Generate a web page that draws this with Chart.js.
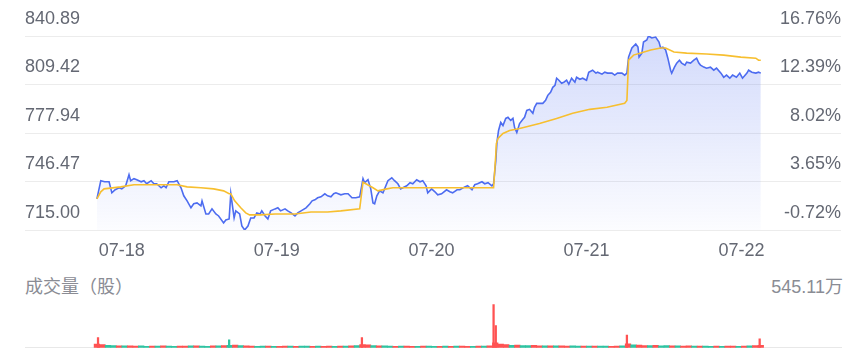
<!DOCTYPE html>
<html lang="zh-CN">
<head>
  <meta charset="UTF-8">
  <title>五日分时</title>
  <script src="https://cdn.jsdelivr.net/npm/chart.js"></script>
  <style>
    body {
      margin: 0;
      background: #fff;
      font-family: 'Liberation Sans', 'Noto Sans CJK SC', sans-serif;
    }
    .wrap {
      position: relative;
      width: 865px;
      height: 364px;
      overflow: hidden;
    }
    #priceBox {
      position: absolute;
      left: 0;
      top: 0;
      width: 865px;
      height: 273px;
    }
    #volBox {
      position: absolute;
      left: 0;
      top: 300px;
      width: 865px;
      height: 50px;
    }
    .vol-text {
      position: absolute;
      top: 276px;
      font-size: 18px;
      line-height: 22px;
      color: #8a8c94;
    }
  </style>
</head>
<body>
  <div class="wrap">
    <div id="priceBox"><canvas id="priceChart"></canvas></div>
    <div class="vol-text" style="left:25px">成交量（股）</div>
    <div class="vol-text" style="right:22px">545.11万</div>
    <div id="volBox"><canvas id="volChart"></canvas></div>
  </div>

  <script>
    // x values are minutes from the first open, 240 per trading day
    const dateLabels = ['07-18', '07-19', '07-20', '07-21', '07-22'];
    const dateTickMinutes = [45, 325, 605, 885, 1165];

    const priceTicks = [715.00, 746.47, 777.94, 809.42, 840.89];
    const pctLabels = ['-0.72%', '3.65%', '8.02%', '12.39%', '16.76%'];

    const minutes = [
      0, 7, 14, 22, 27, 33, 40, 45, 52, 58, 61, 67, 72, 80, 85, 90, 98, 103, 108, 116, 121, 125, 130, 139, 145, 152, 157, 163, 170, 175, 181, 188, 190, 197, 202, 208, 215, 220, 229, 233, 239,
      242, 248, 251, 258, 262, 267, 273, 278, 284, 289, 295, 298, 304, 309, 314, 322, 327, 332, 340, 345, 351, 358, 363, 369, 378, 385, 389, 394, 399, 405, 412, 417, 423, 428, 432, 441, 448, 454, 461, 468, 475,
      481, 484, 490, 495, 499, 502, 506, 511, 517, 520, 526, 533, 538, 544, 549, 553, 560, 566, 571, 578, 584, 589, 595, 598, 605, 611, 616, 623, 632, 638, 643, 651, 656, 665, 670, 678, 683, 688, 696, 701, 707, 714, 717,
      721, 723, 726, 730, 734, 739, 743, 748, 752, 755, 759, 764, 770, 773, 777, 782, 788, 791, 795, 800, 806, 811, 815, 820, 824, 828, 831, 835, 840, 844, 849, 853, 858, 864, 867, 873, 878, 885, 889, 896, 902, 905, 913, 918, 923, 931, 936, 941, 949, 954, 958,
      961, 967, 974, 978, 980, 985, 988, 994, 997, 1003, 1010, 1016, 1019, 1023, 1028, 1032, 1037, 1039, 1044, 1048, 1053, 1057, 1063, 1066, 1073, 1079, 1084, 1088, 1091, 1097, 1102, 1109, 1115, 1120, 1128, 1133, 1138, 1144, 1149, 1156, 1162, 1167, 1175, 1178, 1184, 1191, 1196, 1200
    ];
    const price = [
      735.2, 747.0, 746.3, 746.3, 739.1, 741.1, 742.4, 741.7, 743.7, 750.9, 747.0, 748.3, 747.6, 746.3, 747.0, 745.0, 747.0, 745.0, 745.0, 742.4, 743.7, 742.4, 746.3, 746.3, 747.0, 742.4, 737.2, 733.9, 729.4, 732.0, 732.6, 730.7, 733.9, 725.4, 725.4, 728.7, 725.4, 724.1, 719.6, 721.5, 722.2,
      738.5, 722.8, 727.4, 725.4, 717.6, 715.0, 717.6, 722.8, 722.8, 726.1, 725.4, 727.4, 724.1, 722.2, 727.4, 728.7, 729.4, 727.4, 728.7, 727.4, 726.1, 724.1, 726.1, 727.4, 729.4, 732.0, 733.9, 734.6, 735.9, 736.5, 738.5, 737.2, 736.5, 738.5, 739.1, 737.8, 738.5, 738.5, 735.9, 735.9, 736.5,
      748.3, 745.7, 747.6, 741.7, 732.6, 732.0, 737.2, 740.4, 739.1, 741.7, 747.0, 748.9, 747.0, 745.0, 741.7, 742.4, 743.7, 745.7, 745.0, 747.6, 746.3, 747.0, 743.7, 739.1, 741.7, 739.8, 737.8, 738.5, 741.1, 739.8, 739.1, 741.1, 741.1, 743.0, 743.7, 741.1, 744.4, 745.0, 746.3, 745.0, 745.7, 743.7, 745.0,
      760.0, 771.8, 779.6, 784.8, 782.8, 787.4, 788.1, 786.1, 787.4, 781.5, 778.3, 784.1, 786.8, 788.1, 792.6, 793.3, 790.7, 794.6, 797.2, 797.2, 797.2, 799.1, 802.4, 804.4, 807.6, 808.9, 813.5, 812.2, 810.2, 810.9, 812.2, 809.6, 813.5, 810.9, 814.1, 812.8, 813.5, 812.2, 817.4, 818.7, 816.8, 817.4, 816.1, 817.4, 816.8, 816.8, 815.5, 816.8, 816.8, 815.5, 816.8,
      827.2, 833.1, 835.7, 833.7, 827.2, 829.8, 837.0, 838.3, 840.89, 839.6, 840.2, 837.0, 833.1, 833.7, 831.8, 826.5, 818.7, 816.8, 820.7, 823.3, 825.2, 823.3, 822.0, 823.9, 823.3, 825.2, 826.5, 823.3, 822.0, 820.7, 820.0, 820.7, 818.7, 820.0, 816.8, 814.1, 815.5, 813.5, 815.5, 814.1, 816.8, 813.5, 816.8, 818.7, 817.4, 816.8, 817.4, 816.8
    ];

    const avgMinutes = [
      0, 7, 13, 43, 67, 145, 163, 188, 211, 229, 239,
      242, 249, 260, 269, 276, 296, 322, 358, 387, 417, 441, 475,
      481, 486, 499, 508, 524, 535, 600, 660, 717,
      721, 722, 725, 734, 746, 764, 800, 831, 860, 891, 922, 954, 958,
      961, 970, 983, 1001, 1019, 1028, 1043, 1066, 1102, 1133, 1164, 1191, 1196, 1200
    ];
    const avgPrice = [
      735.2, 739.8, 741.7, 743.0, 744.4, 744.4, 743.0, 742.4, 741.7, 740.4, 738.5,
      738.5, 733.9, 729.4, 726.1, 724.8, 724.8, 725.4, 725.4, 726.7, 726.7, 727.4, 728.7,
      746.0, 745.0, 742.4, 740.4, 741.7, 742.4, 742.4, 742.4, 742.4,
      764.0, 771.1, 774.4, 777.6, 779.6, 780.9, 784.1, 787.4, 790.7, 793.3, 794.6, 797.2, 799.1,
      825.2, 828.5, 829.8, 831.8, 833.1, 833.1, 830.5, 829.8, 829.2, 828.5, 827.2, 826.5, 825.2, 825.2
    ];

    // volume (万股): one bar every 10 minutes, 1 = up (red), 0 = down (green)
    const volStep = 10;
    const volume = [
      45, 40, 30, 28, 25, 22, 24, 20, 22, 18, 20, 19, 22, 20, 18, 21, 19, 22, 24, 20, 18, 22, 24, 26,
      30, 32, 26, 22, 20, 18, 20, 19, 17, 18, 20, 19, 18, 20, 21, 18, 19, 17, 20, 18, 19, 20, 22, 28,
      40, 35, 28, 24, 22, 20, 18, 20, 19, 18, 17, 19, 20, 18, 17, 19, 18, 20, 19, 18, 17, 20, 19, 24,
      60, 45, 38, 30, 32, 28, 26, 30, 25, 24, 22, 25, 22, 20, 22, 21, 20, 19, 21, 20, 19, 18, 20, 24,
      50, 36, 32, 28, 26, 30, 25, 26, 22, 24, 21, 22, 20, 19, 20, 18, 19, 18, 20, 19, 18, 20, 22, 26,
      30
    ];
    const volUp = [
      1, 1, 0, 0, 1, 0, 1, 1, 0, 0, 1, 0, 1, 0, 0, 1, 1, 0, 1, 0, 0, 1, 0, 1,
      0, 1, 0, 1, 1, 0, 0, 1, 0, 1, 1, 0, 1, 0, 0, 1, 0, 1, 1, 0, 1, 0, 1, 0,
      1, 1, 0, 1, 0, 0, 1, 0, 1, 1, 0, 1, 0, 0, 1, 0, 1, 0, 1, 1, 0, 1, 0, 1,
      1, 1, 1, 0, 1, 0, 0, 1, 1, 0, 1, 0, 1, 1, 0, 0, 1, 0, 1, 0, 0, 1, 1, 0,
      1, 0, 1, 1, 0, 1, 0, 0, 1, 0, 1, 1, 0, 1, 0, 0, 1, 0, 1, 1, 0, 1, 0, 1,
      1
    ];
    // single-minute spikes at the opens and the last close
    const spikeMinutes = [2, 239, 479, 717, 721, 958, 1198];
    const spikeVolume = [127, 98, 127, 545.11, 278, 160, 110];
    const spikeUp = [1, 0, 1, 1, 1, 1, 1];
    const volMax = 545.11;

    const upColor = '#ff5252';
    const downColor = '#2ec4a2';
    const tickColor = '#646873';
    const xMin = -130, xMax = 1345;

    function priceFill(context) {
      const chart = context.chart;
      const area = chart.chartArea;
      if (!area) return 'rgba(77,108,240,0.1)';
      const g = chart.ctx.createLinearGradient(0, area.top, 0, area.bottom);
      g.addColorStop(0, 'rgba(77,108,240,0.25)');
      g.addColorStop(1, 'rgba(77,108,240,0.02)');
      return g;
    }

    const setPriceTicks = axis => { axis.ticks = priceTicks.map(v => ({ value: v })); };

    new Chart(document.getElementById('priceChart'), {
      type: 'line',
      data: {
        datasets: [
          {
            label: '均价',
            data: avgMinutes.map((m, i) => ({ x: m, y: avgPrice[i] })),
            borderColor: '#f7bf2f',
            borderWidth: 1.6,
            pointRadius: 0,
            tension: 0,
            fill: false,
            order: 0
          },
          {
            label: '价格',
            data: minutes.map((m, i) => ({ x: m, y: price[i] })),
            borderColor: '#4d6cf0',
            borderWidth: 1.6,
            pointRadius: 0,
            tension: 0,
            fill: 'start',
            backgroundColor: priceFill,
            order: 1
          }
        ]
      },
      options: {
        responsive: true,
        maintainAspectRatio: false,
        animation: false,
        layout: { padding: { left: 25, right: 24, top: 36, bottom: 1.4 } },
        plugins: { legend: { display: false }, tooltip: { enabled: false } },
        scales: {
          x: {
            type: 'linear',
            min: xMin,
            max: xMax,
            grid: { display: false, drawTicks: false },
            border: { display: false },
            afterBuildTicks: axis => { axis.ticks = dateTickMinutes.map(v => ({ value: v })); },
            ticks: {
              autoSkip: false,
              maxRotation: 0,
              padding: 10,
              color: tickColor,
              font: { size: 18, family: 'Liberation Sans' },
              callback: (v, i) => dateLabels[i]
            }
          },
          y: {
            position: 'left',
            min: priceTicks[0],
            max: priceTicks[priceTicks.length - 1],
            afterBuildTicks: setPriceTicks,
            grid: { color: '#ececec', drawTicks: false },
            border: { display: false },
            ticks: {
              mirror: true,
              padding: 0,
              labelOffset: -17,
              color: tickColor,
              font: { size: 18, family: 'Liberation Sans' },
              callback: (v, i) => priceTicks[i].toFixed(2)
            }
          },
          y1: {
            position: 'right',
            min: priceTicks[0],
            max: priceTicks[priceTicks.length - 1],
            afterBuildTicks: setPriceTicks,
            grid: { display: false, drawTicks: false },
            border: { display: false },
            ticks: {
              mirror: true,
              padding: 0,
              labelOffset: -17,
              color: tickColor,
              font: { size: 18, family: 'Liberation Sans' },
              callback: (v, i) => pctLabels[i]
            }
          }
        }
      }
    });

    new Chart(document.getElementById('volChart'), {
      type: 'bar',
      data: {
        datasets: [
          {
            label: '尖峰',
            data: spikeMinutes.map((m, i) => ({ x: m, y: spikeVolume[i] })),
            backgroundColor: spikeUp.map(u => u ? upColor : downColor),
            barThickness: 1.6,
            grouped: false,
            order: 0
          },
          {
            label: '成交量',
            data: volume.map((v, i) => ({ x: i * volStep, y: v })),
            backgroundColor: volUp.map(u => u ? upColor : downColor),
            barThickness: 5.6,
            grouped: false,
            order: 1
          }
        ]
      },
      options: {
        responsive: true,
        maintainAspectRatio: false,
        animation: false,
        layout: { padding: { left: 25, right: 24, top: 4.3, bottom: 2.3 } },
        plugins: { legend: { display: false }, tooltip: { enabled: false } },
        scales: {
          x: {
            type: 'linear',
            min: xMin,
            max: xMax,
            offset: false,
            grid: { display: false, drawTicks: false, offset: false },
            border: { display: true, color: '#e8e8e8' },
            ticks: { display: false }
          },
          y: { display: false, min: 0, max: volMax }
        }
      }
    });
  </script>
</body>
</html>
